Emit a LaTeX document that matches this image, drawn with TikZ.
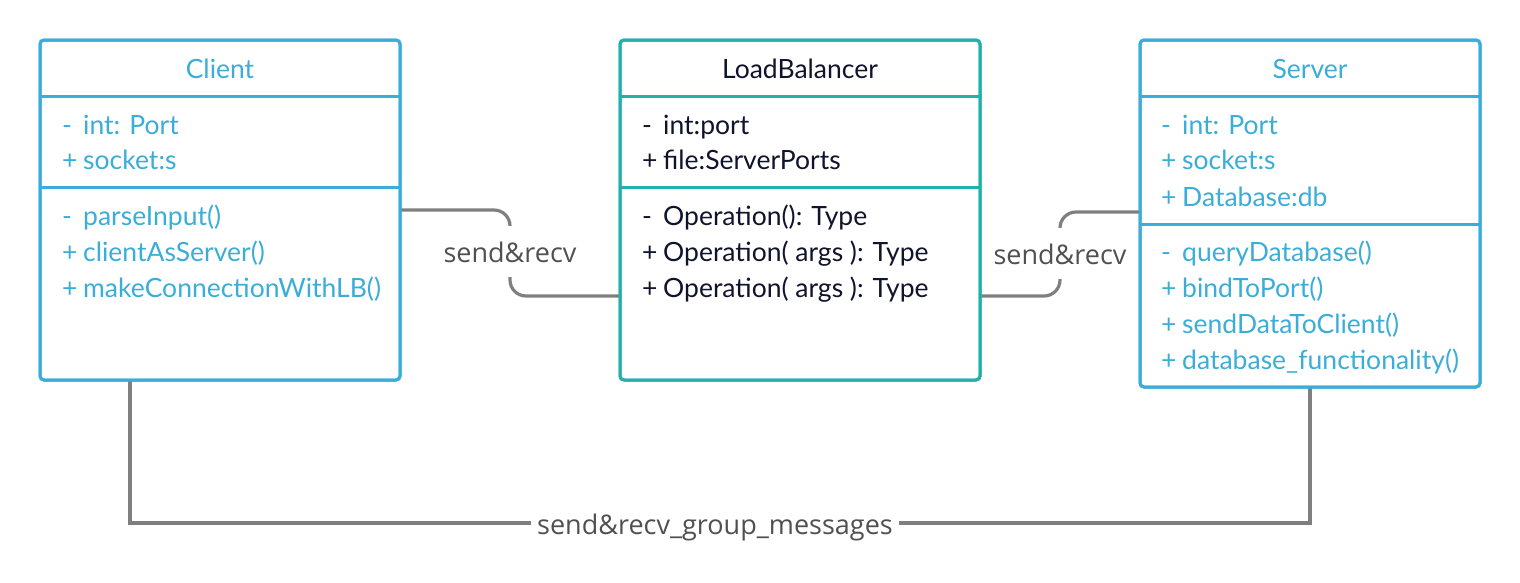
\documentclass[tikz,border=0pt]{standalone}
\usepackage{fontspec}
\setmainfont{Lato}
\newfontfamily\connfont{Open Sans}
\definecolor{cblue}{HTML}{3AADD9}
\definecolor{cteal}{HTML}{22B1AA}
\definecolor{cnavy}{HTML}{10132C}
\definecolor{lgray}{HTML}{7F7F7F}
\definecolor{tgray}{HTML}{505050}
\tikzset{
  classbox/.style={rectangle, line width=3pt, rounded corners=4pt, fill=white, inner sep=0pt, outer sep=0pt, anchor=north west},
  divider/.style={line width=3pt},
  txt/.style={anchor=base west, inner sep=0pt, font=\fontsize{26.5}{32}\selectfont},
  title/.style={anchor=base, inner sep=0pt, font=\fontsize{26.5}{32}\selectfont},
  conn/.style={draw=lgray, line width=3.2pt},
  lbl/.style={font=\connfont\fontsize{27}{32}\selectfont, text=tgray, fill=white, inner xsep=6pt, inner ysep=15pt, anchor=base},
}
\newcommand{\vis}[1]{\makebox[21pt][l]{#1}}
\begin{document}
\begin{tikzpicture}[x=1pt,y=-1pt]
\useasboundingbox (0,0) rectangle (1520,582);

% boxes
\node[classbox, draw=cblue, minimum width=360pt, minimum height=340pt] (client) at (40,40) {};
\node[classbox, draw=cteal, minimum width=360pt, minimum height=340pt] (lb) at (620,40) {};
\node[classbox, draw=cblue, minimum width=340pt, minimum height=347pt] (server) at (1140,40) {};

% connector anchor points
\coordinate (c1a) at (client.east |- 0,210);
\coordinate (c1b) at (lb.west |- 0,296);
\coordinate (c2a) at (lb.east |- 0,296);
\coordinate (c2b) at (server.west |- 0,212);
\coordinate (c3a) at (client.south -| 130,0);
\coordinate (c3b) at (server.south -| 1310,0);

% connectors
\draw[conn, rounded corners=16pt] (c1a) -- (510,210) -- (510,296) -- (c1b);
\draw[conn, rounded corners=16pt] (c2a) -- (1060,296) -- (1060,212) -- (c2b);
\draw[conn] (c3a) -- (130,523) -- (1310,523) -- (c3b);

% redraw box borders over connector ends
\draw[cblue, line width=3pt, rounded corners=4pt] (client.north west) rectangle (client.south east);
\draw[cteal, line width=3pt, rounded corners=4pt] (lb.north west) rectangle (lb.south east);
\draw[cblue, line width=3pt, rounded corners=4pt] (server.north west) rectangle (server.south east);

% dividers
\draw[divider, cblue] (client.west |- 0,96) -- (client.east |- 0,96);
\draw[divider, cblue] (client.west |- 0,187) -- (client.east |- 0,187);
\draw[divider, cteal] (lb.west |- 0,96) -- (lb.east |- 0,96);
\draw[divider, cteal] (lb.west |- 0,187) -- (lb.east |- 0,187);
\draw[divider, cblue] (server.west |- 0,96) -- (server.east |- 0,96);
\draw[divider, cblue] (server.west |- 0,224) -- (server.east |- 0,224);

% Client texts
\node[title, text=cblue] (ct) at (220,78) {Client};
\node[txt, text=cblue] (ca1) at (62,134) {\vis{-}int: Port};
\node[txt, text=cblue] (ca2) at (62,169) {\vis{+}socket:s};
\node[txt, text=cblue] (cm1) at (62,225) {\vis{-}parseInput()};
\node[txt, text=cblue] (cm2) at (62,261) {\vis{+}clientAsServer()};
\node[txt, text=cblue] (cm3) at (62,297) {\vis{+}makeConnectionWithLB()};

% LoadBalancer texts
\node[title, text=cnavy] (lt) at (800,78) {LoadBalancer};
\node[txt, text=cnavy] (la1) at (642,134) {\vis{-}int:port};
\node[txt, text=cnavy] (la2) at (642,169) {\vis{+}file:ServerPorts};
\node[txt, text=cnavy] (lm1) at (642,225) {\vis{-}Operation(): Type};
\node[txt, text=cnavy] (lm2) at (642,261) {\vis{+}Operation( args ): Type};
\node[txt, text=cnavy] (lm3) at (642,297) {\vis{+}Operation( args ): Type};

% Server texts
\node[title, text=cblue] (st) at (1310,78) {Server};
\node[txt, text=cblue] (sa1) at (1161,134) {\vis{-}int: Port};
\node[txt, text=cblue] (sa2) at (1161,169) {\vis{+}socket:s};
\node[txt, text=cblue] (sa3) at (1161,206) {\vis{+}Database:db};
\node[txt, text=cblue] (sm1) at (1161,261) {\vis{-}queryDatabase()};
\node[txt, text=cblue] (sm2) at (1161,297) {\vis{+}bindToPort()};
\node[txt, text=cblue] (sm3) at (1161,333) {\vis{+}sendDataToClient()};
\node[txt, text=cblue] (sm4) at (1161,369) {\vis{+}database\_functionality()};

% connector labels
\node[lbl] (l1) at (510,262) {send\&recv};
\node[lbl] (l2) at (1060,264) {send\&recv};
\node[lbl] (l3) at (715,534) {send\&recv\_group\_messages};
\end{tikzpicture}
\end{document}
